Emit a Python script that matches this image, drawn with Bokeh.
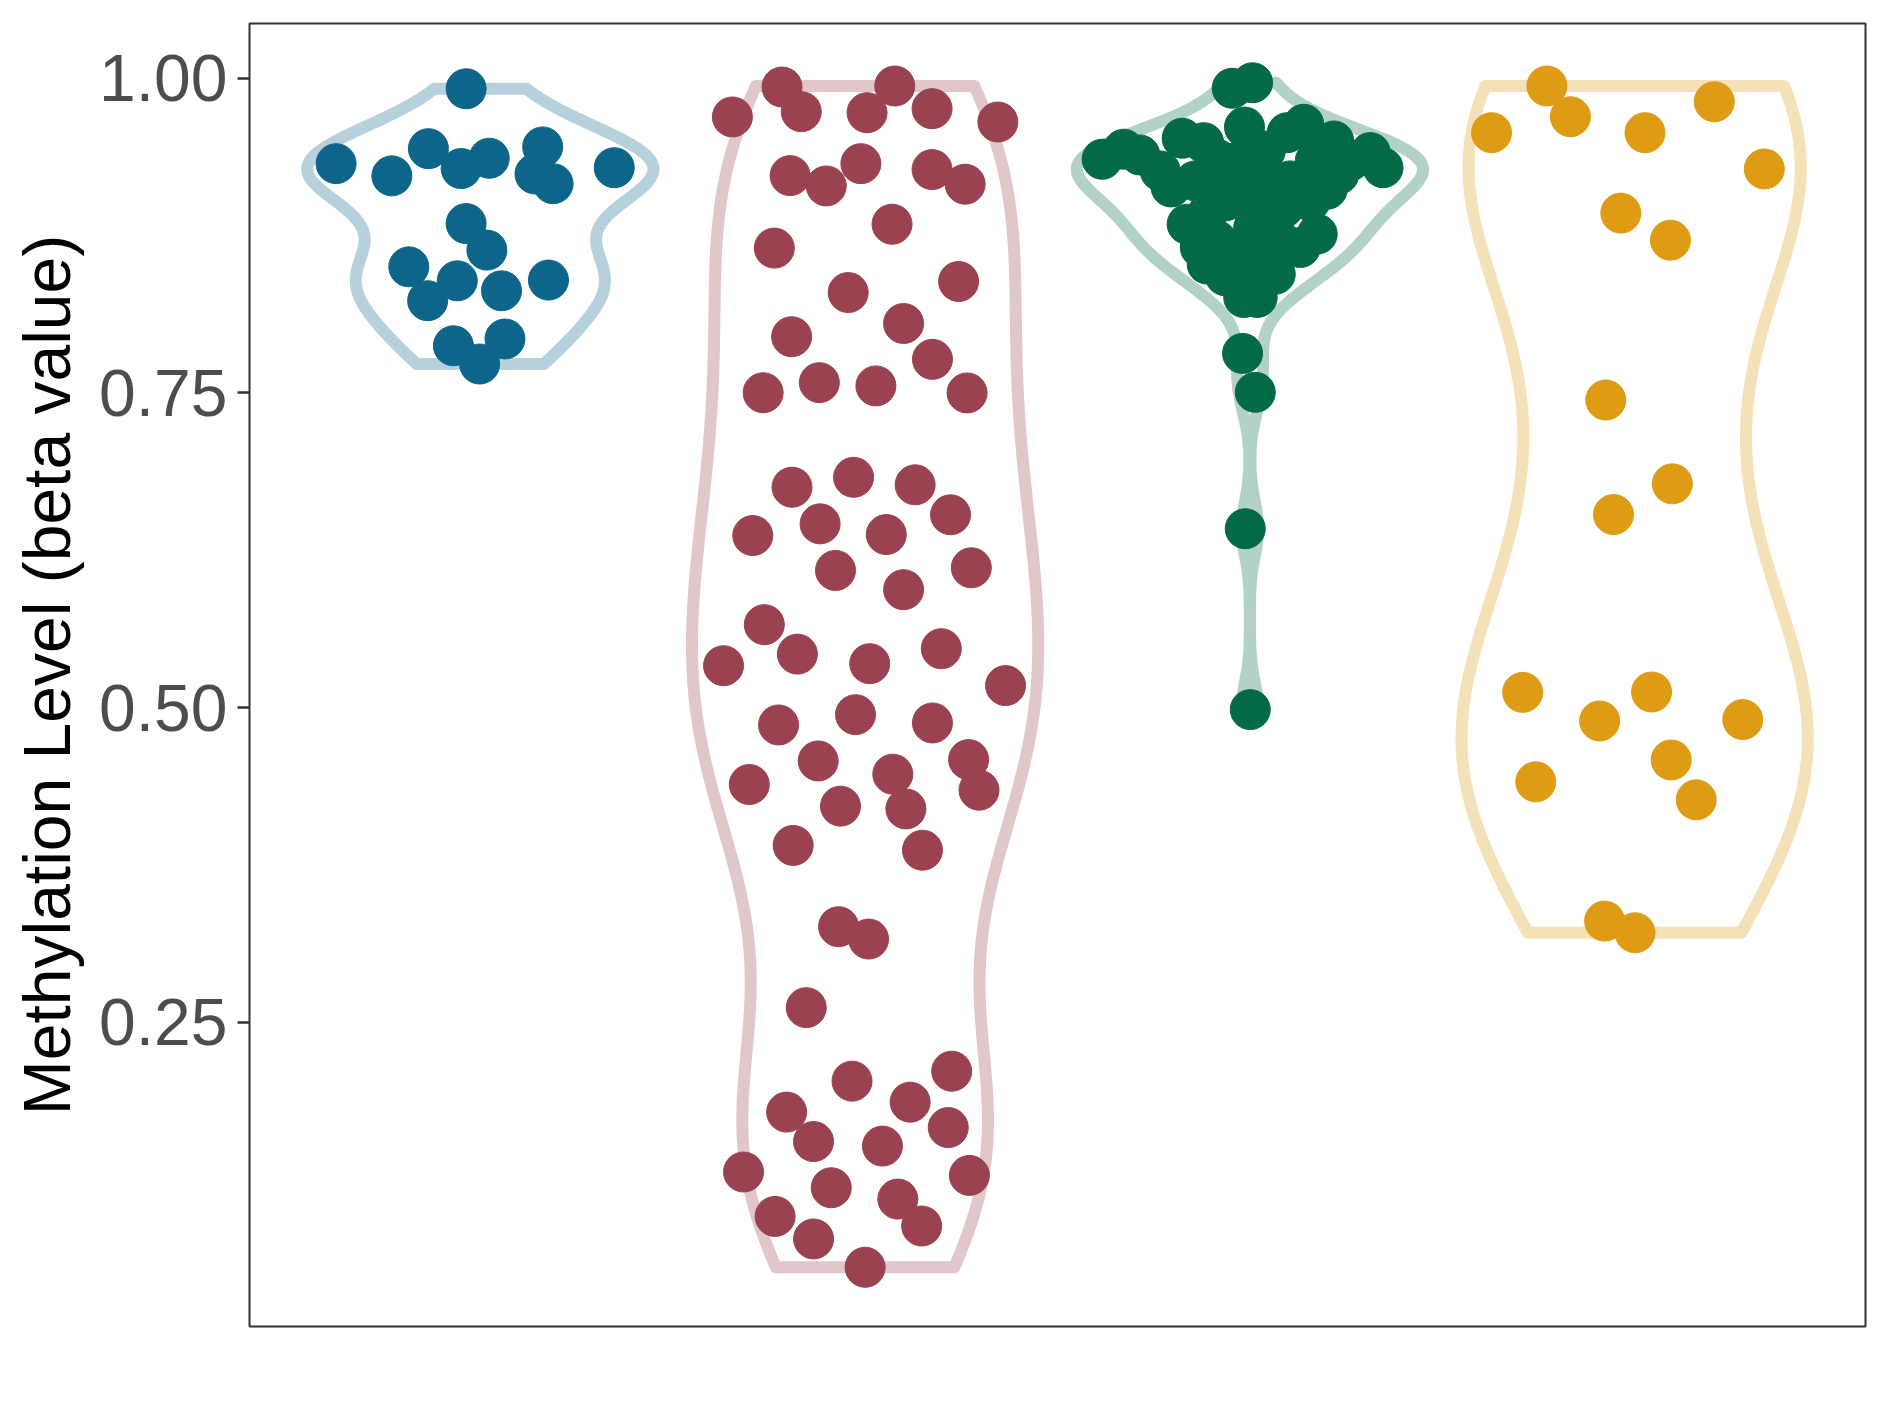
import numpy as np
from bokeh.plotting import figure
from bokeh.models import Range1d, FixedTicker, PrintfTickFormatter
from bokeh.embed import file_html
from bokeh.resources import INLINE

# ---------------- data ----------------
group_positions = [1, 2, 3, 4]
point_colors = ["#0D6689", "#9A4250", "#036A46", "#DE9B14"]

blue_values = [0.9917, 0.9322, 0.9225, 0.9441, 0.9283, 0.9365, 0.9455, 0.9240, 0.9163, 0.9290,
               0.8846, 0.8635, 0.8502, 0.8391, 0.8233, 0.8312, 0.8397, 0.7875, 0.7929, 0.7730]
blue_jitter = [-0.037, -0.375, -0.230, -0.135, -0.050, 0.023, 0.162, 0.142, 0.189, 0.348,
               -0.037, 0.017, -0.186, -0.060, -0.137, 0.055, 0.177, -0.070, 0.064, -0.002]

red_values = [0.9693, 0.9931, 0.9735, 0.9727, 0.9939, 0.9759, 0.9653, 0.9227, 0.9145, 0.9322,
              0.9275, 0.9159, 0.8841, 0.8651, 0.8298, 0.8386, 0.7947, 0.8052, 0.7767, 0.7502,
              0.7582, 0.7556, 0.7500, 0.6751, 0.6830, 0.6770, 0.6532, 0.6367, 0.6460, 0.6375,
              0.6090, 0.6111, 0.5937, 0.5659, 0.5333, 0.5425, 0.5349, 0.5468, 0.5175, 0.4862,
              0.4944, 0.4878, 0.4576, 0.4471, 0.4587, 0.4344, 0.4389, 0.4217, 0.4195, 0.3905,
              0.3867, 0.3259, 0.3161, 0.2616, 0.2032, 0.2111, 0.1786, 0.1865, 0.1552, 0.1516,
              0.1663, 0.1310, 0.1283, 0.1185, 0.1095, 0.0957, 0.0881, 0.0778, 0.0553]
red_jitter = [-0.345, -0.216, -0.166, 0.005, 0.077, 0.174, 0.345, -0.195, -0.101, -0.011,
              0.174, 0.260, 0.070, -0.236, -0.044, 0.243, -0.191, 0.100, 0.175, -0.265,
              -0.119, 0.028, 0.265, -0.190, -0.030, 0.130, 0.222, -0.292, -0.117, 0.055,
              -0.077, 0.276, 0.100, -0.262, -0.368, -0.176, 0.012, 0.198, 0.365, -0.225,
              -0.025, 0.175, -0.122, 0.072, 0.269, 0.296, -0.301, -0.064, 0.106, -0.187,
              0.149, -0.069, 0.009, -0.153, -0.034, 0.225, -0.204, 0.117, -0.134, 0.045,
              0.216, -0.316, 0.271, -0.088, 0.085, -0.234, 0.147, -0.134, 0.000]

green_values = [0.9921, 0.9965, 0.9357, 0.9437, 0.9391, 0.9524, 0.9489, 0.9613, 0.9137, 0.9568,
                0.9635, 0.9502, 0.9410, 0.9290, 0.9238, 0.9119, 0.9357, 0.9132, 0.9132, 0.8841,
                0.8921, 0.8709, 0.8656, 0.8524, 0.8814, 0.8973, 0.8762, 0.8656, 0.8444, 0.8259,
                0.8259, 0.7814, 0.7505, 0.6421, 0.4984, 0.9344, 0.9423, 0.9026, 0.8987, 0.8907,
                0.8629, 0.9185, 0.9185, 0.9026, 0.8510, 0.8431, 0.8709, 0.9344, 0.9264, 0.9344]
green_jitter = [-0.046, 0.007, -0.384, -0.328, -0.286, -0.176, -0.120, -0.014, -0.205, 0.097,
                0.140, 0.218, 0.313, 0.346, 0.231, 0.201, -0.085, -0.051, 0.045, -0.163,
                -0.111, -0.085, -0.129, -0.111, 0.010, 0.088, 0.175, 0.131, 0.066, -0.016,
                0.019, -0.019, 0.014, -0.012, 0.001, -0.025, 0.040, -0.064, 0.001, 0.053,
                -0.038, 0.105, -0.142, 0.157, 0.027, -0.064, 0.079, 0.170, -0.233, 0.261]

yellow_values = [0.9939, 0.9695, 0.9568, 0.9568, 0.9814, 0.9280, 0.8929, 0.8714, 0.7444, 0.6778,
                 0.6534, 0.5121, 0.4894, 0.5124, 0.4905, 0.4410, 0.4584, 0.4267, 0.3304, 0.3211]
yellow_jitter = [-0.228, -0.167, -0.372, 0.027, 0.207, 0.337, -0.036, 0.093, -0.075, 0.098,
                 -0.055, -0.291, -0.091, 0.044, 0.281, -0.257, 0.095, 0.160, -0.078, 0.001]

y_ticks = [0.25, 0.50, 0.75, 1.00]

all_values = [blue_values, red_values, green_values, yellow_values]
all_jitter = [blue_jitter, red_jitter, green_jitter, yellow_jitter]


def bw_nrd0(x):
    x = np.asarray(x, float)
    sd = np.std(x, ddof=1)
    q75, q25 = np.percentile(x, [75, 25])
    lo = min(sd, (q75 - q25) / 1.34)
    if lo <= 0:
        lo = sd
    return 0.9 * lo * len(x) ** (-0.2)


def violin(vals, n=512):
    v = np.asarray(vals, float)
    bw = bw_nrd0(v)
    grid = np.linspace(v.min(), v.max(), n)
    dens = np.exp(-0.5 * ((grid[:, None] - v[None, :]) / bw) ** 2).sum(axis=1)
    dens = dens / dens.max()
    return grid, dens


# ---------------- figure ----------------
alldata = np.concatenate([np.asarray(v) for v in all_values])
span = alldata.max() - alldata.min()
y_lo = alldata.min() - 0.05 * span
y_hi = alldata.max() + 0.05 * span

p = figure(frame_width=1616, frame_height=1303,
           x_range=Range1d(0.4, 4.6), y_range=Range1d(y_lo, y_hi),
           output_backend="svg", toolbar_location=None,
           min_border_left=249, min_border_right=8, min_border_top=23, min_border_bottom=62,
           background_fill_color="white", border_fill_color="white")

for pos, vals, jit, col in zip(group_positions, all_values, all_jitter, point_colors):
    grid, dens = violin(vals)
    half = 0.45 * dens
    xs = np.concatenate([pos - half, (pos + half)[::-1]])
    ys = np.concatenate([grid, grid[::-1]])
    p.patch(xs, ys, fill_color=None, line_color=col, line_alpha=0.3,
            line_width=12, line_join="round")

for pos, vals, jit, col in zip(group_positions, all_values, all_jitter, point_colors):
    xs = [pos + j for j in jit]
    p.scatter(xs, vals, size=40, fill_color=col, line_color=col, line_width=1)

p.xaxis.visible = False
p.xgrid.visible = False
p.ygrid.visible = False
p.outline_line_color = "#333333"
p.outline_line_width = 2

ya = p.yaxis[0]
ya.ticker = FixedTicker(ticks=y_ticks)
ya.formatter = PrintfTickFormatter(format="%.2f")
ya.axis_line_color = None
ya.major_tick_line_color = "#333333"
ya.major_tick_line_width = 2.5
ya.major_tick_out = 12
ya.major_tick_in = 0
ya.minor_tick_line_color = None
ya.major_label_text_font = "Liberation Sans"
ya.major_label_text_font_size = "66px"
ya.major_label_text_color = "#4D4D4D"
ya.major_label_standoff = 10
ya.axis_label = "Methylation Level (beta value)"
ya.axis_label_text_font = "Liberation Sans"
ya.axis_label_text_font_size = "66px"
ya.axis_label_text_font_style = "normal"
ya.axis_label_text_color = "black"
ya.axis_label_standoff = 12

open("out.html", "w").write(file_html(p, INLINE))
